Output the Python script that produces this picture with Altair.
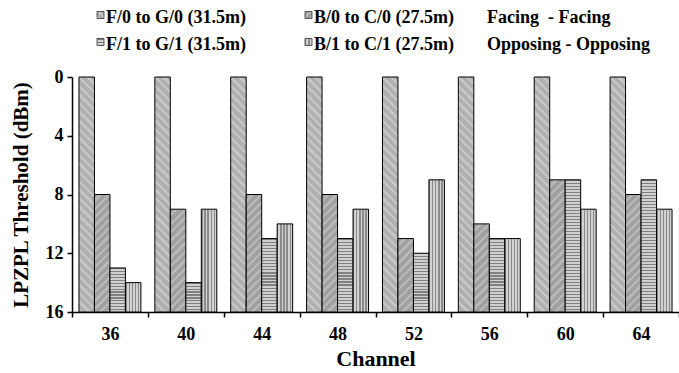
import altair as alt
import pandas as pd

# ---------------- data ----------------
channels = ["36", "40", "44", "48", "52", "56", "60", "64"]
series = ["F/0 to G/0 (31.5m)", "B/0 to C/0 (27.5m)",
          "F/1 to G/1 (31.5m)", "B/1 to C/1 (27.5m)"]
f0_vals = [0, 0, 0, 0, 0, 0, 0, 0]
b0_vals = [8, 9, 8, 8, 11, 10, 7, 8]
f1_vals = [13, 14, 11, 11, 12, 11, 7, 7]
b1_vals = [14, 9, 10, 9, 7, 11, 9, 9]
extra_legend = ["Facing\u00a0 - Facing", "Opposing - Opposing"]

values = [f0_vals, b0_vals, f1_vals, b1_vals]
rows = []
for s, vals in zip(series, values):
    for c, v in zip(channels, vals):
        rows.append({"channel": c, "series": s, "value": v})
df = pd.DataFrame(rows)

# ---------------- layout ----------------
PLOT_W, PLOT_H = 607, 235
Y_MAX = 16
OUTER = 0.45
BAND = PLOT_W / len(channels)
BAR_W = BAND / (len(series) + 2 * OUTER)
FONT = "Liberation Serif"


def hard_stops(n, c1, c2, frac=0.5):
    stops = []
    for i in range(n):
        a = i / n
        m = (i + frac) / n
        b = (i + 1) / n
        stops += [{"offset": a, "color": c1}, {"offset": m, "color": c1},
                  {"offset": m, "color": c2}, {"offset": b, "color": c2}]
    return stops


def grad_fill(kind, w, h):
    if kind == "diag_back":  # "\" stripes
        k = (w + h) / (w * w + h * h)
        n = max(1, round((w + h) / 8.5))
        return {"gradient": "linear", "x1": 1, "y1": 0, "x2": 1 - k * w, "y2": k * h,
                "stops": hard_stops(n, "#b0b0b0", "#c6c6c6", 0.6)}
    if kind == "diag_fwd":  # "/" stripes
        k = (w + h) / (w * w + h * h)
        n = max(1, round((w + h) / 8.5))
        return {"gradient": "linear", "x1": 0, "y1": 0, "x2": k * w, "y2": k * h,
                "stops": hard_stops(n, "#a0a0a0", "#b8b8b8", 0.6)}
    if kind == "horiz":
        n = max(1, round(h / 3.0))
        return {"gradient": "linear", "x1": 0, "y1": 0, "x2": 0, "y2": 1,
                "stops": hard_stops(n, "#808080", "#d0d0d0", 0.42)}
    # vertical stripes
    n = max(1, round(w / 3.0))
    return {"gradient": "linear", "x1": 0, "y1": 0, "x2": 1, "y2": 0,
            "stops": hard_stops(n, "#8a8a8a", "#d2d2d2", 0.42)}


kinds = ["diag_back", "diag_fwd", "horiz", "vert"]

x_enc = alt.X("channel:N", title="Channel",
              scale=alt.Scale(domain=channels, paddingInner=0, paddingOuter=0),
              axis=alt.Axis(labelAngle=0, tickBand="extent", tickSize=5,
                            labelPadding=8, titlePadding=5,
                            labelFont=FONT, labelFontSize=18, labelFontWeight="bold",
                            titleFont=FONT, titleFontSize=22, titleFontWeight="bold",
                            labelColor="black", titleColor="black"))
xo_enc = alt.XOffset("series:N",
                     scale=alt.Scale(domain=series, paddingInner=0, paddingOuter=OUTER))
y_enc = alt.Y("value:Q", title="LPZPL Threshold (dBm)",
              scale=alt.Scale(domain=[0, Y_MAX], reverse=True, nice=False),
              axis=alt.Axis(values=[0, 4, 8, 12, 16], tickSize=5, labelPadding=4,
                            titlePadding=14, grid=False,
                            labelFont=FONT, labelFontSize=18, labelFontWeight="bold",
                            titleFont=FONT, titleFontSize=21, titleFontWeight="bold",
                            labelColor="black", titleColor="black"))

layers = []
for s, vals, kind in zip(series, values, kinds):
    for c, v in zip(channels, vals):
        h = (Y_MAX - v) * PLOT_H / Y_MAX
        layer = alt.Chart().mark_bar(
            fill=grad_fill(kind, BAR_W, h), stroke="black", strokeWidth=1
        ).encode(
            x=x_enc, xOffset=xo_enc, y=y_enc, y2=alt.Y2(datum=Y_MAX)
        ).transform_filter(
            (alt.datum.series == s) & (alt.datum.channel == c)
        )
        layers.append(layer)

# ---------------- legend (manual, pattern swatches) ----------------
one = alt.Data(values=[{}])
col_sw = [28.5, 236.5]
col_tx = [34, 242, 415]
row_tx = [-59.5, -32]
row_sw = [-62, -35]
legend_items = [(series[0], 0, 0), (series[1], 1, 0), (series[2], 0, 1), (series[3], 1, 1)]
for (lab, col, row), kind in zip(legend_items, kinds):
    layers.append(alt.Chart(one).mark_square(
        size=49, fill=grad_fill(kind, 7, 7), stroke="#333333", strokeWidth=0.8, opacity=1
    ).encode(x=alt.value(col_sw[col]), y=alt.value(row_sw[row])))
    layers.append(alt.Chart(one).mark_text(
        align="left", baseline="middle", font=FONT, fontSize=18, fontWeight="bold",
        color="black"
    ).encode(x=alt.value(col_tx[col]), y=alt.value(row_tx[row]), text=alt.value(lab)))
for i, lab in enumerate(extra_legend):
    layers.append(alt.Chart(one).mark_text(
        align="left", baseline="middle", font=FONT, fontSize=18, fontWeight="bold",
        color="black"
    ).encode(x=alt.value(col_tx[2]), y=alt.value(row_tx[i]), text=alt.value(lab)))

chart = alt.layer(*layers, data=df).properties(
    width=PLOT_W, height=PLOT_H,
    autosize=alt.AutoSizeParams(type="none"),
    padding={"left": 72, "top": 77, "right": 0, "bottom": 61},
    background="white",
).configure_view(stroke=None).configure_axis(
    domainColor="black", domainWidth=1.5, tickColor="black", tickWidth=1.5
)

chart.save("out.html", embed_options={"renderer": "svg", "actions": False})
